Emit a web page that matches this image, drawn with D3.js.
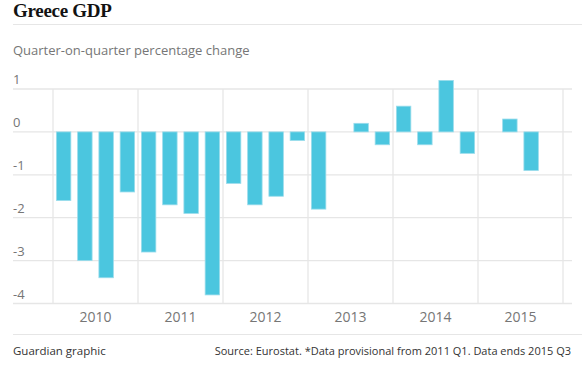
<!DOCTYPE html>
<html>
<head>
<meta charset="utf-8">
<script src="https://cdn.jsdelivr.net/npm/d3@7"></script>
<style>
  html, body { margin: 0; padding: 0; background: #fff; }
  svg { display: block; }
  text { font-family: "Open Sans", "Noto Sans", sans-serif; }
</style>
</head>
<body>
<svg id="chart" width="582" height="367"></svg>
<script>
// ---- Data ----
const quarters = [
  "2010 Q1","2010 Q2","2010 Q3","2010 Q4",
  "2011 Q1","2011 Q2","2011 Q3","2011 Q4",
  "2012 Q1","2012 Q2","2012 Q3","2012 Q4",
  "2013 Q1","2013 Q2","2013 Q3","2013 Q4",
  "2014 Q1","2014 Q2","2014 Q3","2014 Q4",
  "2015 Q1","2015 Q2","2015 Q3","2015 Q4"
];
const changes = [
  -1.6, -3.0, -3.4, -1.4,
  -2.8, -1.7, -1.9, -3.8,
  -1.2, -1.7, -1.5, -0.2,
  -1.8,  0.0,  0.2, -0.3,
   0.6, -0.3,  1.2, -0.5,
   0.0,  0.3, -0.9, null
];
const years = [2010, 2011, 2012, 2013, 2014, 2015];
const yTicks = [1, 0, -1, -2, -3, -4];

const title = "Greece GDP";
const subtitle = "Quarter-on-quarter percentage change";
const creditLeft = "Guardian graphic";
const creditRight = "Source: Eurostat. *Data provisional from 2011 Q1. Data ends 2015 Q3";

// ---- Layout ----
const W = 582, H = 367;
const left = 13, plotL = 53, plotR = 563, gridR = 572;
const plotT = 89, plotB = 303.5;

const svg = d3.select("#chart");
const grid = "#e6e6e6";
const textGrey = "#767676";

const x = d3.scaleBand().domain(quarters).range([plotL, plotR])
  .paddingInner(0.32).paddingOuter(0.16);
const xYear = d3.scaleLinear().domain([2010, 2016]).range([plotL, plotR]);
const y = d3.scaleLinear().domain([-4, 1]).range([plotB, plotT]);

// Title
svg.append("text").attr("x", left).attr("y", 17)
  .style("font-family", "'Liberation Serif', 'DejaVu Serif', serif")
  .style("font-weight", "bold").style("font-size", "19px")
  .style("letter-spacing", "-0.3px")
  .attr("fill", "#121212").text(title);
svg.append("line").attr("x1", left).attr("x2", W).attr("y1", 24.5).attr("y2", 24.5)
  .attr("stroke", grid).attr("stroke-width", 1);

svg.append("text").attr("x", left).attr("y", 55)
  .style("font-size", "13px").attr("fill", textGrey).text(subtitle);

// Horizontal gridlines + y labels
yTicks.forEach(v => {
  svg.append("line").attr("x1", left).attr("x2", gridR)
    .attr("y1", y(v)).attr("y2", y(v))
    .attr("stroke", grid).attr("stroke-width", 1.3);
  svg.append("text").attr("x", left).attr("y", y(v) - 5)
    .style("font-size", "13px").attr("fill", textGrey).text(v);
});

// Vertical year gridlines
d3.range(2010, 2017).forEach(yr => {
  svg.append("line").attr("x1", xYear(yr)).attr("x2", xYear(yr))
    .attr("y1", plotT).attr("y2", plotB)
    .attr("stroke", grid).attr("stroke-width", 1.3);
});

// Bars
svg.append("g").selectAll("rect")
  .data(quarters.map((q, i) => ({q, v: changes[i]})).filter(d => d.v !== null))
  .join("rect")
  .attr("x", d => x(d.q))
  .attr("width", x.bandwidth())
  .attr("y", d => y(Math.max(0, d.v)))
  .attr("height", d => Math.abs(y(d.v) - y(0)))
  .attr("fill", "#4bc6df")
  .attr("stroke", "#9adcec")
  .attr("stroke-width", 0.8);

// Year labels
years.forEach(yr => {
  svg.append("text").attr("x", xYear(yr + 0.5)).attr("y", 322)
    .attr("text-anchor", "middle")
    .style("font-size", "14px").attr("fill", textGrey).text(yr);
});

// Footer
svg.append("line").attr("x1", left).attr("x2", W).attr("y1", 334.5).attr("y2", 334.5)
  .attr("stroke", grid).attr("stroke-width", 1);
svg.append("text").attr("x", left).attr("y", 355)
  .style("font-size", "11.5px").attr("fill", "#333").text(creditLeft);
svg.append("text").attr("x", 571).attr("y", 355).attr("text-anchor", "end")
  .style("font-size", "11px").attr("fill", "#333").text(creditRight);
</script>
</body>
</html>
